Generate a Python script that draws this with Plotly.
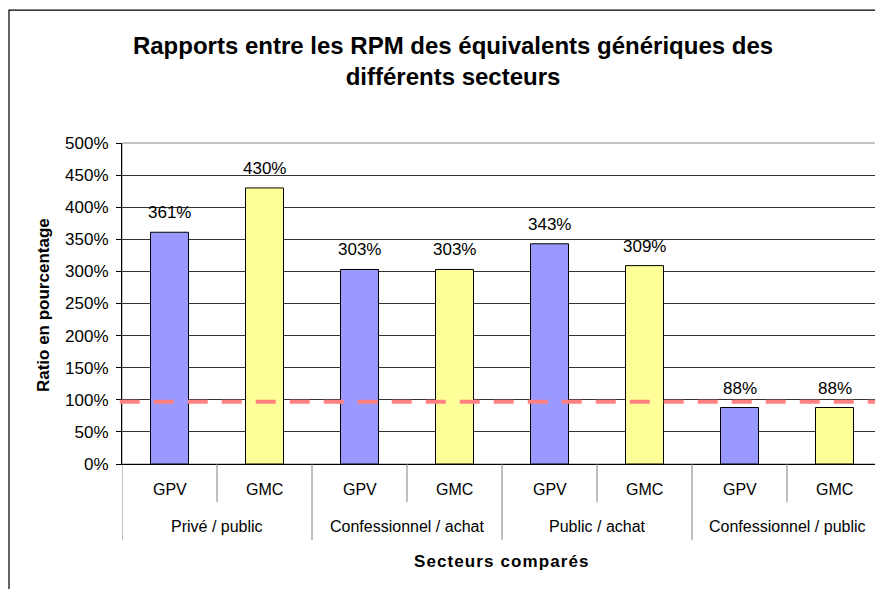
import plotly.graph_objects as go

groups = ["Privé / public", "Confessionnel / achat", "Public / achat", "Confessionnel / public"]
subs = ["GPV", "GMC", "GPV", "GMC", "GPV", "GMC", "GPV", "GMC"]
values = [3.61, 4.30, 3.03, 3.03, 3.43, 3.09, 0.88, 0.88]
bar_colors = ["#9999FF", "#FFFF99"] * 4
ref_line = 0.97
y_ticks = [0, 0.5, 1, 1.5, 2, 2.5, 3, 3.5, 4, 4.5, 5]

FONT = "Liberation Sans, Arial, sans-serif"
positions = list(range(len(values)))

fig = go.Figure()
fig.add_trace(go.Bar(
    x=positions, y=values,
    marker=dict(color=bar_colors, line=dict(color="#000000", width=1)),
    width=0.4,
    hoverinfo="skip",
))

# value labels above bars
for i, v in zip(positions, values):
    fig.add_annotation(x=i, y=v, xref="x", yref="y", text=f"{round(v * 100)}%",
                       showarrow=False, yanchor="bottom", yshift=8,
                       font=dict(family=FONT, size=17, color="#000000"))

# category labels (level 1)
for i, s in zip(positions, subs):
    fig.add_annotation(x=i, y=-0.0779, xref="x", yref="paper", text=s,
                       showarrow=False, yanchor="middle",
                       font=dict(family=FONT, size=16, color="#000000"))
# group labels (level 2)
for g_i, g in enumerate(groups):
    fig.add_annotation(x=2 * g_i + 0.5, y=-0.196, xref="x", yref="paper", text=g,
                       showarrow=False, yanchor="middle",
                       font=dict(family=FONT, size=16, color="#000000"))
# separators
for b in range(len(values) + 1):
    y_end = -0.237 if b % 2 == 0 else -0.118
    fig.add_shape(type="line", xref="x", yref="paper", x0=b - 0.5, x1=b - 0.5,
                  y0=0, y1=y_end, line=dict(color="#7F7F7F", width=1))

# axis titles
fig.add_annotation(x=0.5, y=-0.305, xref="paper", yref="paper",
                   text='<span style="letter-spacing:1.1px"><b>Secteurs comparés</b></span>',
                   showarrow=False, yanchor="middle",
                   font=dict(family=FONT, size=17, color="#000000"))
fig.add_annotation(x=-0.104, y=0.495, xref="paper", yref="paper",
                   text="<b>Ratio en pourcentage</b>", showarrow=False, textangle=-90,
                   xanchor="center", yanchor="middle",
                   font=dict(family=FONT, size=17, color="#000000"))

# reference dashed line
fig.add_shape(type="line", xref="paper", yref="y",
              x0=-0.003, x1=1, y0=ref_line, y1=ref_line,
              line=dict(color="#FF8080", width=4, dash="20px,14px"))

# outer chart border
fig.add_shape(type="rect", xref="paper", yref="paper",
              x0=-0.1487, x1=1.02, y0=-0.5, y1=1.414,
              line=dict(color="#000000", width=1.2), layer="above")
# plot area border
fig.add_shape(type="rect", xref="paper", yref="paper", x0=0, x1=1, y0=0, y1=1,
              line=dict(color="#888888", width=1), layer="below")

fig.update_layout(
    width=875, height=581,
    margin=dict(l=114, r=1, t=135, b=125),
    paper_bgcolor="white", plot_bgcolor="white",
    showlegend=False,
    font=dict(family=FONT, size=17, color="#000000"),
    title=dict(text="<b>Rapports entre les RPM des équivalents génériques des<br>différents secteurs</b>",
               x=0.5086, xref="container", xanchor="center", y=0.921, yanchor="top",
               font=dict(family=FONT, size=24, color="#000000")),
    xaxis=dict(range=[-0.5, 7.5], showticklabels=False, showgrid=False,
               showline=True, linecolor="#000000", zeroline=False, fixedrange=True),
    yaxis=dict(range=[0, 5], tickvals=y_ticks, tickformat=".0%",
               showgrid=True, gridcolor="#333333", gridwidth=1,
               showline=True, linecolor="#000000", ticks="outside", ticklen=5,
               tickcolor="#000000", ticklabelstandoff=4,
               tickfont=dict(family=FONT, size=17),
               zeroline=False, fixedrange=True),
)

fig.write_html("out.html")
